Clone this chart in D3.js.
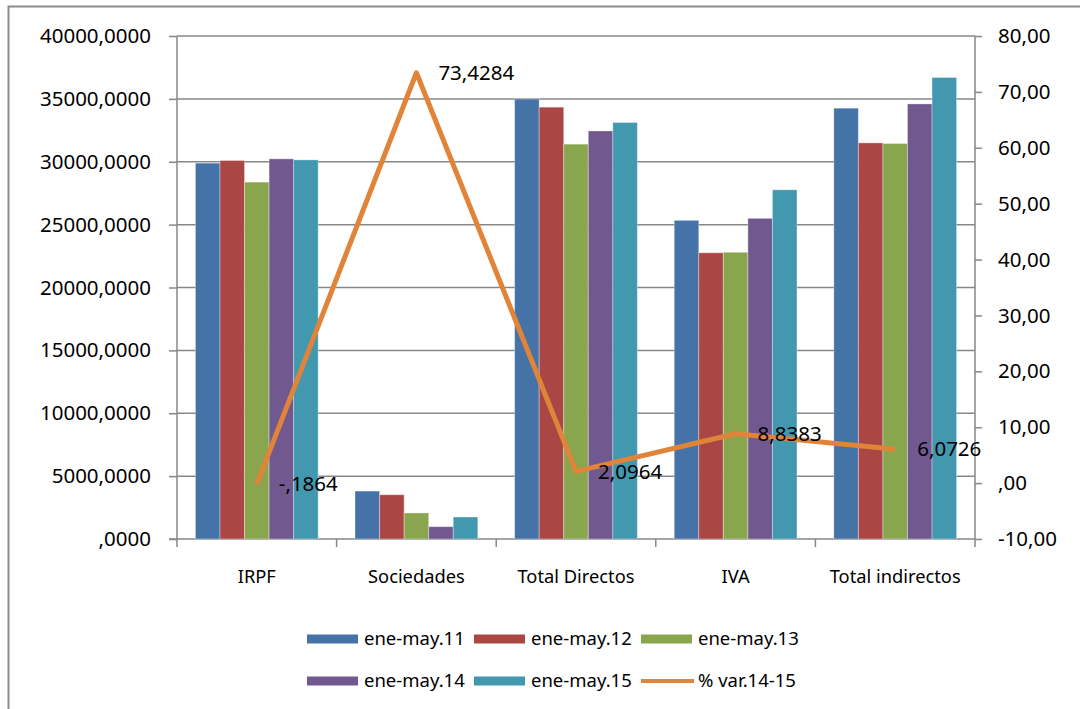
<!DOCTYPE html>
<html lang="es">
<head>
<meta charset="UTF-8">
<title>Recaudación ene-may</title>
<script src="https://cdnjs.cloudflare.com/ajax/libs/d3/7.8.5/d3.min.js"></script>
<style>
    body { margin: 0; background: #fff; }
    svg text { font-family: 'Noto Sans', 'Open Sans', sans-serif; fill: #000; }
</style>
</head>
<body>
<div id="chart"></div>
<script>
// categorías y series
const categories = ["IRPF", "Sociedades", "Total Directos", "IVA", "Total indirectos"];
const seriesNames = ["ene-may.11", "ene-may.12", "ene-may.13", "ene-may.14", "ene-may.15"];
const s11 = [29890, 3810, 34990, 25340, 34260];
const s12 = [30100, 3520, 34340, 22760, 31500];
const s13 = [28380, 2070, 31400, 22800, 31450];
const s14 = [30230, 980, 32450, 25500, 34600];
const s15 = [30150, 1750, 33120, 27770, 36700];
const pctVar = [-0.1864, 73.4284, 2.0964, 8.8383, 6.0726];
const pctLabels = ["-,1864", "73,4284", "2,0964", "8,8383", "6,0726"];
const leftTicks = [0, 5000, 10000, 15000, 20000, 25000, 30000, 35000, 40000];
const rightTicks = [-10, 0, 10, 20, 30, 40, 50, 60, 70, 80];
const lineName = "% var.14-15";

const barValues = [s11, s12, s13, s14, s15];
const colors = ["#4572A7", "#AA4643", "#89A54E", "#71588F", "#4198AF"];
const lineColor = "#E0843A";
const gridColor = "#878787";

const W = 1080, H = 709;
const plot = {left: 177, right: 975, top: 36, bottom: 539};

const svg = d3.select("#chart").append("svg")
    .attr("width", W).attr("height", H);

// marco del gráfico
svg.append("rect")
    .attr("x", 8.5).attr("y", 6.5)
    .attr("width", W + 20).attr("height", H + 20)
    .attr("fill", "none").attr("stroke", "#8c8c8c").attr("stroke-width", 2);

const x0 = d3.scaleBand().domain(categories)
    .range([plot.left, plot.right])
    .paddingInner(1.5 / 6.5).paddingOuter(0.75 / 6.5);
const x1 = d3.scaleBand().domain(seriesNames).range([0, x0.bandwidth()]);
const yL = d3.scaleLinear().domain([0, 40000]).range([plot.bottom, plot.top]);
const yR = d3.scaleLinear().domain([-10, 80]).range([plot.bottom, plot.top]);

// formato español con guion normal
const fmtL = d => d === 0 ? ",0000" : String(d) + ",0000";
const fmtR = d => d === 0 ? ",00" : String(d) + ",00";

// líneas de división
svg.append("g").selectAll("line").data(leftTicks.slice(1)).enter().append("line")
    .attr("x1", plot.left).attr("x2", plot.right)
    .attr("y1", d => yL(d)).attr("y2", d => yL(d))
    .attr("stroke", gridColor).attr("stroke-width", 1.5);

// eje izquierdo
const axL = svg.append("g")
    .attr("transform", `translate(${plot.left},0)`)
    .call(d3.axisLeft(yL).tickValues(leftTicks).tickFormat(fmtL).tickSize(8).tickPadding(18));
axL.selectAll("text").style("font-size", "20.5px");

// eje derecho
const axR = svg.append("g")
    .attr("transform", `translate(${plot.right},0)`)
    .call(d3.axisRight(yR).tickValues(rightTicks).tickFormat(fmtR).tickSize(7).tickPadding(16));
axR.selectAll("text").style("font-size", "20.5px");

// eje x
const catBounds = d3.range(categories.length + 1).map(i => plot.left + i * x0.step());
svg.append("g").selectAll("line").data(catBounds).enter().append("line")
    .attr("x1", d => d).attr("x2", d => d)
    .attr("y1", plot.bottom).attr("y2", plot.bottom + 8)
    .attr("stroke", gridColor).attr("stroke-width", 1.5);
svg.append("line")
    .attr("x1", plot.left - 8).attr("x2", plot.right)
    .attr("y1", plot.bottom).attr("y2", plot.bottom)
    .attr("stroke", gridColor).attr("stroke-width", 1.5);

svg.append("g").selectAll("text").data(categories).enter().append("text")
    .attr("x", d => x0(d) + x0.bandwidth() / 2)
    .attr("y", 577)
    .attr("dy", "0.35em")
    .attr("text-anchor", "middle")
    .style("font-size", "18.3px")
    .text(d => d);

[axL, axR].forEach(a => {
    a.select(".domain").attr("stroke", gridColor).attr("stroke-width", 1.5);
    a.selectAll(".tick line").attr("stroke", gridColor).attr("stroke-width", 1.5);
    a.selectAll("text").attr("fill", "#000");
});
axL.select(".domain").attr("d", `M0,${plot.bottom}V${plot.top}`);
axR.select(".domain").attr("d", `M0,${plot.bottom}V${plot.top}`);

// barras
const groups = svg.append("g").selectAll("g").data(categories).enter().append("g")
    .attr("transform", d => `translate(${x0(d)},0)`);
groups.selectAll("rect")
    .data((d, i) => seriesNames.map((s, j) => ({s: s, v: barValues[j][i], c: colors[j]})))
    .enter().append("rect")
    .attr("x", d => x1(d.s))
    .attr("y", d => yL(d.v))
    .attr("width", x1.bandwidth())
    .attr("height", d => yL(0) - yL(d.v))
    .attr("fill", d => d.c)
    .attr("stroke", "#ffffff").attr("stroke-opacity", 0.35).attr("stroke-width", 1);

// línea % variación
const lineData = categories.map((c, i) => ({c: c, v: pctVar[i], label: pctLabels[i]}));
svg.append("path")
    .datum(lineData)
    .attr("fill", "none")
    .attr("stroke", lineColor)
    .attr("stroke-width", 5)
    .attr("stroke-linejoin", "round")
    .attr("d", d3.line()
        .x(d => x0(d.c) + x0.bandwidth() / 2)
        .y(d => yR(d.v)));

svg.append("g").selectAll("text").data(lineData).enter().append("text")
    .attr("x", d => x0(d.c) + x0.bandwidth() / 2 + 22)
    .attr("y", d => yR(d.v))
    .attr("dy", "0.35em")
    .style("font-size", "20.5px")
    .text(d => d.label);

// leyenda
const legendItems = seriesNames.map((s, i) => ({name: s, color: colors[i], type: "bar"}))
    .concat([{name: lineName, color: lineColor, type: "line"}]);
const leg = svg.append("g").selectAll("g").data(legendItems).enter().append("g")
    .attr("transform", (d, i) => `translate(${307 + (i % 3) * 167},${i < 3 ? 639 : 681})`);
leg.filter(d => d.type === "bar").append("rect")
    .attr("x", 0).attr("y", -4.5).attr("width", 51).attr("height", 9)
    .attr("fill", d => d.color);
leg.filter(d => d.type === "line").append("line")
    .attr("x1", 0).attr("x2", 53).attr("y1", 0).attr("y2", 0)
    .attr("stroke", d => d.color).attr("stroke-width", 4);
leg.append("text")
    .attr("x", 57).attr("y", 0).attr("dy", "0.35em")
    .style("font-size", "18.5px")
    .text(d => d.name);
</script>
</body>
</html>
